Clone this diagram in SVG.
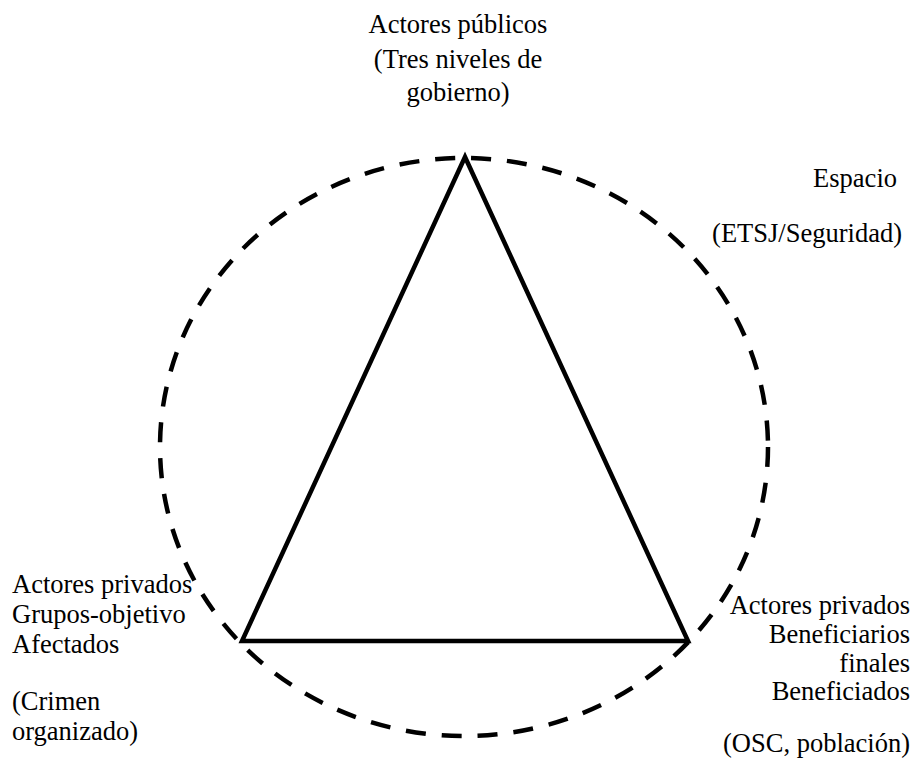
<svg xmlns="http://www.w3.org/2000/svg" width="912" height="768" viewBox="0 0 912 768">
<style>
text{font-family:'Liberation Serif','Times New Roman',serif;font-size:26.5px;fill:#000}
.r{text-anchor:end}
.c{text-anchor:middle}
</style>
<rect width="912" height="768" fill="#fff"/>
<g id="connectors">
<ellipse id="space" cx="464" cy="447" rx="304" ry="289" fill="none" stroke="#000" stroke-width="4.5" stroke-dasharray="20 16"/>
<polygon id="triangle" points="465,157 242,641 688,641" fill="none" stroke="#000" stroke-width="4.5" stroke-linejoin="miter"/>
</g>
<g id="node-publicos">
<text class="c" x="458" y="33">Actores públicos</text>
<text class="c" x="458" y="68">(Tres niveles de</text>
<text class="c" x="458" y="101">gobierno)</text>
</g>
<g id="node-espacio">
<text class="r" x="897" y="187">Espacio</text>
<text class="r" x="902" y="242">(ETSJ/Seguridad)</text>
</g>
<g id="node-privados-izq">
<text x="12" y="593">Actores privados</text>
<text x="12" y="623">Grupos-objetivo</text>
<text x="12" y="653">Afectados</text>
<text x="12" y="710">(Crimen</text>
<text x="12" y="740">organizado)</text>
</g>
<g id="node-privados-der">
<text class="r" x="910" y="614">Actores privados</text>
<text class="r" x="910" y="643">Beneficiarios</text>
<text class="r" x="910" y="672">finales</text>
<text class="r" x="910" y="700">Beneficiados</text>
<text class="r" x="910" y="752">(OSC, población)</text>
</g>
</svg>
